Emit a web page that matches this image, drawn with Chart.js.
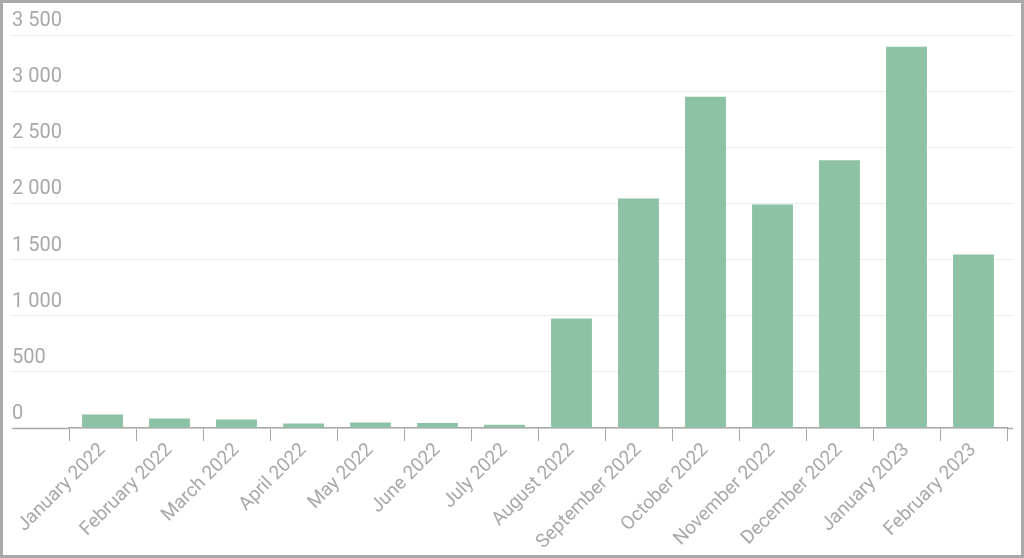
<!DOCTYPE html>
<html>
<head>
<meta charset="utf-8">
<script src="https://cdn.jsdelivr.net/npm/chart.js@4"></script>
<style>
html,body{margin:0;padding:0;background:#fff;}
#wrap{width:1024px;height:558px;box-sizing:border-box;border:3px solid #a9a9a9;background:#fff;}
canvas{display:block;}
</style>
</head>
<body>
<div id="wrap"><canvas id="c" width="1018" height="552"></canvas></div>
<script>
const categories = ["January 2022","February 2022","March 2022","April 2022","May 2022","June 2022","July 2022","August 2022","September 2022","October 2022","November 2022","December 2022","January 2023","February 2023"];
const values = [120, 85, 75, 40, 50, 45, 30, 975, 2045, 2950, 1990, 2385, 3395, 1545];
const yTicks = [0, 500, 1000, 1500, 2000, 2500, 3000, 3500];

const barColor = "#8dc2a4";
const gridColor = "#ececec";
const axisColor = "#a8a8a8";
const labelColor = "#a8a8a8";
const fmt = v => String(v).replace(/\B(?=(\d{3})+(?!\d))/g, " ");

new Chart(document.getElementById("c"), {
  type: "bar",
  data: {
    labels: categories,
    datasets: [{ data: values, backgroundColor: barColor, borderWidth: 0, barPercentage: 0.61, categoryPercentage: 1 }]
  },
  options: {
    responsive: false,
    animation: false,
    devicePixelRatio: 1,
    layout: { padding: { left: 9, top: 32, right: 8, bottom: 0 } },
    plugins: { legend: { display: false }, tooltip: { enabled: false } },
    scales: {
      x: {
        offset: true,
        afterFit: s => { s.height = 127; },
        grid: { offset: true, drawOnChartArea: false, drawTicks: true, tickLength: 13, tickColor: axisColor, tickWidth: 1 },
        border: { display: true, color: axisColor, width: 1.5 },
        ticks: { color: labelColor, font: { family: "Roboto", size: 19 }, minRotation: 45, maxRotation: 45, padding: -2 }
      },
      y: {
        min: 0, max: 3500,
        afterBuildTicks: s => { s.ticks = yTicks.map(v => ({ value: v })); },
        afterFit: s => { s.width = 57; },
        grid: {
          color: gridColor, lineWidth: 1, drawTicks: true, tickLength: 57,
          tickColor: c => c.tick && c.tick.value === 0 ? axisColor : gridColor,
          tickWidth: c => c.tick && c.tick.value === 0 ? 1.5 : 1
        },
        border: { display: false },
        ticks: { color: labelColor, font: { family: "Roboto", size: 20 }, crossAlign: "far", labelOffset: -14, padding: 0, callback: v => fmt(v) }
      },
      y2: {
        position: "right",
        min: 0, max: 3500,
        afterBuildTicks: s => { s.ticks = yTicks.map(v => ({ value: v })); },
        grid: {
          drawOnChartArea: false, drawTicks: true, tickLength: 6,
          tickColor: c => c.tick && c.tick.value === 0 ? axisColor : gridColor,
          tickWidth: c => c.tick && c.tick.value === 0 ? 1.5 : 1
        },
        border: { display: false },
        ticks: { display: false }
      }
    }
  }
});
</script>
</body>
</html>
